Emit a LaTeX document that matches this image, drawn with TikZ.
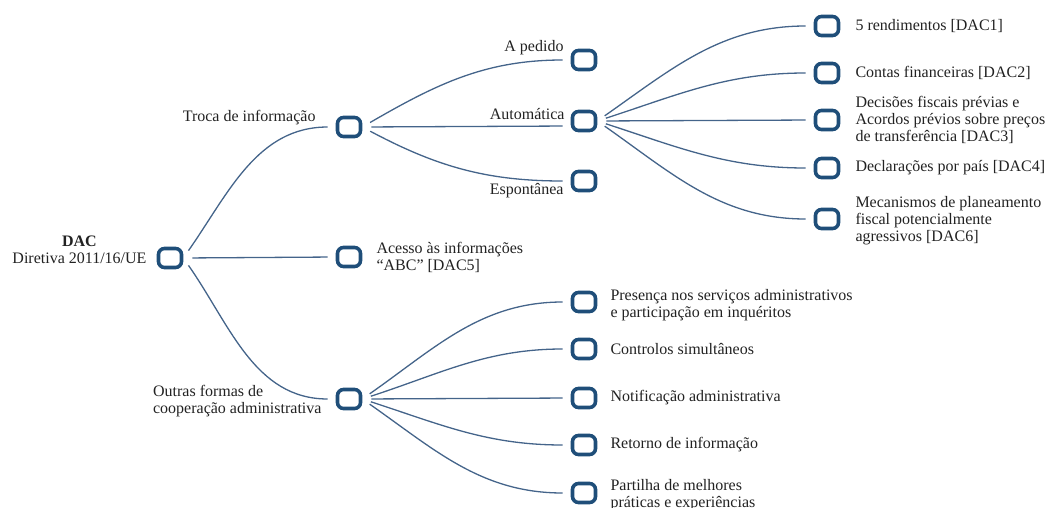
\documentclass[tikz,border=0pt]{standalone}
\usepackage{fontspec}
\setmainfont{Liberation Serif}
\usetikzlibrary{positioning}
\definecolor{boxblue}{HTML}{1F4E79}
\definecolor{linkblue}{HTML}{44648A}
\definecolor{txtgray}{HTML}{222222}

\begin{document}
\begin{tikzpicture}[x=1pt,y=-1pt]
			\tikzstyle{box} = [rectangle, draw=boxblue, line width=3.6pt, rounded corners=6pt, minimum width=23pt, minimum height=19pt, inner sep=0pt]
			\tikzstyle{lbl} = [text=txtgray, font=\fontsize{16}{17}\selectfont, inner sep=0pt]
			\tikzstyle{link} = [draw=linkblue, line width=1.3pt, shorten <=9pt, shorten >=8pt]

			\useasboundingbox (0,0) rectangle (1045,508);

			% boxes
			\node [box] (root) at (170,258) {};
			\node [box] (troca) at (349,127) {};
			\node [box] (acesso) at (349,257) {};
			\node [box] (outras) at (349,399) {};
			\node [box] (pedido) at (584,60) {};
			\node [box] (auto) at (584,121) {};
			\node [box] (espont) at (584,181) {};
			\node [box] (dac1) at (827,26) {};
			\node [box] (dac2) at (827,73) {};
			\node [box] (dac3) at (827,120) {};
			\node [box] (dac4) at (827,168) {};
			\node [box] (dac6) at (827,219) {};
			\node [box] (presenca) at (584,302) {};
			\node [box] (controlos) at (584,349) {};
			\node [box] (notif) at (584,398) {};
			\node [box] (retorno) at (584,445) {};
			\node [box] (partilha) at (584,493) {};

			% labels
			\node [lbl, align=center, left=10pt of root, yshift=8pt] (rootlbl) {\textbf{DAC}\\Diretiva 2011/16/UE};
			\node [lbl, left=20pt of troca, yshift=9pt] (trocalbl) {Troca de informação};
			\node [lbl, align=left, right=14pt of acesso] (acessolbl) {Acesso às informações\\“ABC” [DAC5]};
			\node [lbl, align=left, left=14pt of outras, yshift=-2pt] (outraslbl) {Outras formas de\\cooperação administrativa};
			\node [lbl, left=7pt of pedido, yshift=12pt] (pedidolbl) {A pedido};
			\node [lbl, left=6pt of auto, yshift=7pt] (autolbl) {Automática};
			\node [lbl, left=7pt of espont, yshift=-10pt] (espontlbl) {Espontânea};
			\node [lbl, right=15pt of dac1] (dac1lbl) {5 rendimentos [DAC1]};
			\node [lbl, right=15pt of dac2] (dac2lbl) {Contas financeiras [DAC2]};
			\node [lbl, align=left, right=15pt of dac3] (dac3lbl) {Decisões fiscais prévias e\\Acordos prévios sobre preços\\de transferência [DAC3]};
			\node [lbl, right=15pt of dac4] (dac4lbl) {Declarações por país [DAC4]};
			\node [lbl, align=left, right=15pt of dac6, yshift=-2pt] (dac6lbl) {Mecanismos de planeamento\\fiscal potencialmente\\agressivos [DAC6]};
			\node [lbl, align=left, right=13pt of presenca, yshift=-3pt] (presencalbl) {Presença nos serviços administrativos\\e participação em inquéritos};
			\node [lbl, right=13pt of controlos] (controloslbl) {Controlos simultâneos};
			\node [lbl, right=13pt of notif] (notiflbl) {Notificação administrativa};
			\node [lbl, right=13pt of retorno] (retornolbl) {Retorno de informação};
			\node [lbl, align=left, right=13pt of partilha, yshift=-2pt] (partilhalbl) {Partilha de melhores\\práticas e experiências};

			% connectors
			\path[link] (root.east) edge[out=55, in=180] (troca.west);
			\path[link] (root.east) edge (acesso.west);
			\path[link] (root.east) edge[out=-55, in=180] (outras.west);

			\path[link] (troca.east) edge[out=30, in=180] (pedido.west);
			\path[link] (troca.east) edge ([yshift=-5pt]auto.west);
			\path[link] (troca.east) edge[out=-28, in=180] (espont.west);

			\path[link] (auto.east) edge[out=35, in=180] (dac1.west);
			\path[link] (auto.east) edge[out=18, in=180] (dac2.west);
			\path[link] (auto.east) edge (dac3.west);
			\path[link] (auto.east) edge[out=-18, in=180] (dac4.west);
			\path[link] (auto.east) edge[out=-35, in=180] (dac6.west);

			\path[link] (outras.east) edge[out=35, in=180] (presenca.west);
			\path[link] (outras.east) edge[out=18, in=180] (controlos.west);
			\path[link] (outras.east) edge (notif.west);
			\path[link] (outras.east) edge[out=-18, in=180] (retorno.west);
			\path[link] (outras.east) edge[out=-35, in=180] (partilha.west);
		\end{tikzpicture}
\end{document}
